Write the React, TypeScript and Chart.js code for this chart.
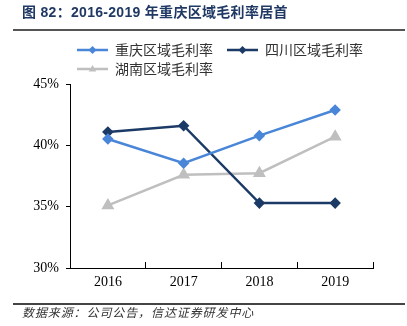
import React, { useEffect, useRef } from "react";
import { Chart, registerables } from "chart.js";

Chart.register(...registerables);

const categories = ["2016", "2017", "2018", "2019"];
const chongqing = [40.52, 38.54, 40.79, 42.88];
const sichuan = [41.09, 41.6, 35.29, 35.29];
const hunan = [35.1, 37.6, 37.73, 40.7];
const seriesNames = ["重庆区域毛利率", "四川区域毛利率", "湖南区域毛利率"];
const yTicks = [30, 35, 40, 45];

const C_BLUE = "#4A86D8";
const C_NAVY = "#1C3A66";
const C_GRAY = "#BFBFBF";

const legendLayout = [
  { x: 77, y: 50 },
  { x: 227, y: 50 },
  { x: 77, y: 69 },
];

function drawMarker(ctx: CanvasRenderingContext2D, style: string, x: number, y: number, r: number, color: string) {
  ctx.save();
  ctx.fillStyle = color;
  ctx.beginPath();
  if (style === "triangle") {
    ctx.moveTo(x, y - r);
    ctx.lineTo(x + r * 0.95, y + r * 0.6);
    ctx.lineTo(x - r * 0.95, y + r * 0.6);
  } else {
    ctx.moveTo(x, y - r);
    ctx.lineTo(x + r, y);
    ctx.lineTo(x, y + r);
    ctx.lineTo(x - r, y);
  }
  ctx.closePath();
  ctx.fill();
  ctx.restore();
}

const customLegend = {
  id: "customLegend",
  afterDraw(chart: any) {
    const ctx = chart.ctx as CanvasRenderingContext2D;
    chart.data.datasets.forEach((ds: any, i: number) => {
      const pos = legendLayout[i];
      ctx.save();
      ctx.strokeStyle = ds.borderColor;
      ctx.lineWidth = 2.5;
      ctx.beginPath();
      ctx.moveTo(pos.x, pos.y);
      ctx.lineTo(pos.x + 31, pos.y);
      ctx.stroke();
      drawMarker(ctx, ds.pointStyle, pos.x + 15.5, pos.y, 4, ds.borderColor);
      ctx.fillStyle = "#333333";
      ctx.font = '14px "Noto Sans CJK SC"';
      ctx.textBaseline = "middle";
      ctx.textAlign = "left";
      ctx.fillText(ds.label, pos.x + 38, pos.y);
      ctx.restore();
    });
  },
};

function ChartView() {
  const ref = useRef<HTMLCanvasElement>(null);
  useEffect(() => {
    if (!ref.current) return;
    const chart = new Chart(ref.current, {
      type: "line",
      data: {
        labels: categories,
        datasets: [
          { label: seriesNames[0], data: chongqing, borderColor: C_BLUE, backgroundColor: C_BLUE, pointStyle: "rectRot", pointRadius: 4, borderWidth: 2.5, tension: 0 },
          { label: seriesNames[1], data: sichuan, borderColor: C_NAVY, backgroundColor: C_NAVY, pointStyle: "rectRot", pointRadius: 4, borderWidth: 2.5, tension: 0 },
          { label: seriesNames[2], data: hunan, borderColor: C_GRAY, backgroundColor: C_GRAY, pointStyle: "triangle", pointRadius: 5, borderWidth: 2.5, tension: 0 },
        ],
      },
      options: {
        animation: false,
        responsive: false,
        devicePixelRatio: 1,
        layout: { padding: { left: 30, right: 34, top: 84, bottom: 28 } },
        plugins: { legend: { display: false }, tooltip: { enabled: false }, title: { display: false } },
        scales: {
          x: {
            offset: true,
            afterFit: (s: any) => { s.height = 30; },
            border: { display: true, color: "#000000", width: 1 },
            grid: { display: true, drawOnChartArea: false, drawTicks: true, tickLength: -6, color: "#000000", offset: true },
            ticks: { color: "#000000", padding: 12, font: { family: '"Liberation Serif", "Times New Roman", serif', size: 14 } },
          },
          y: {
            min: 30,
            max: 45,
            afterFit: (s: any) => { s.width = 40; },
            afterBuildTicks: (s: any) => { s.ticks = yTicks.map((v) => ({ value: v })); },
            border: { display: true, color: "#000000", width: 1 },
            grid: { display: true, drawOnChartArea: false, drawTicks: true, tickLength: 4, color: "#000000" },
            ticks: {
              color: "#000000",
              padding: 7,
              font: { family: '"Liberation Serif", "Times New Roman", serif', size: 14 },
              callback: (v: any) => v + "%",
            },
          },
        },
      },
      plugins: [customLegend],
    } as any);
    return () => chart.destroy();
  }, []);
  return <canvas ref={ref} width={407} height={326} style={{ position: "absolute", left: 0, top: 0, width: 407, height: 326 }} />;
}

export default function App() {
  return (
    <div style={{ position: "fixed", left: 0, top: 0, width: 407, height: 326, background: "#ffffff", overflow: "hidden" }}>
      <ChartView />
      <div style={{ position: "absolute", left: 22, top: 3, fontFamily: '"Liberation Sans", "Noto Sans CJK SC", sans-serif', fontWeight: "bold", fontSize: 14, letterSpacing: "0.3px", color: "#1F3864", whiteSpace: "nowrap", lineHeight: "18px" }}>
        图 82：2016-2019 年重庆区域毛利率居首
      </div>
      <div style={{ position: "absolute", left: 13, top: 29, width: 392, height: 2, background: "#555555" }} />
      <div style={{ position: "absolute", left: 13, top: 303, width: 392, height: 1.5, background: "#444444" }} />
      <div style={{ position: "absolute", left: 22, top: 304, fontFamily: '"Noto Sans CJK SC", sans-serif', fontStyle: "italic", fontSize: 12, letterSpacing: "0.9px", color: "#333333", whiteSpace: "nowrap", lineHeight: "16px" }}>
        数据来源：公司公告，信达证券研发中心
      </div>
    </div>
  );
}
